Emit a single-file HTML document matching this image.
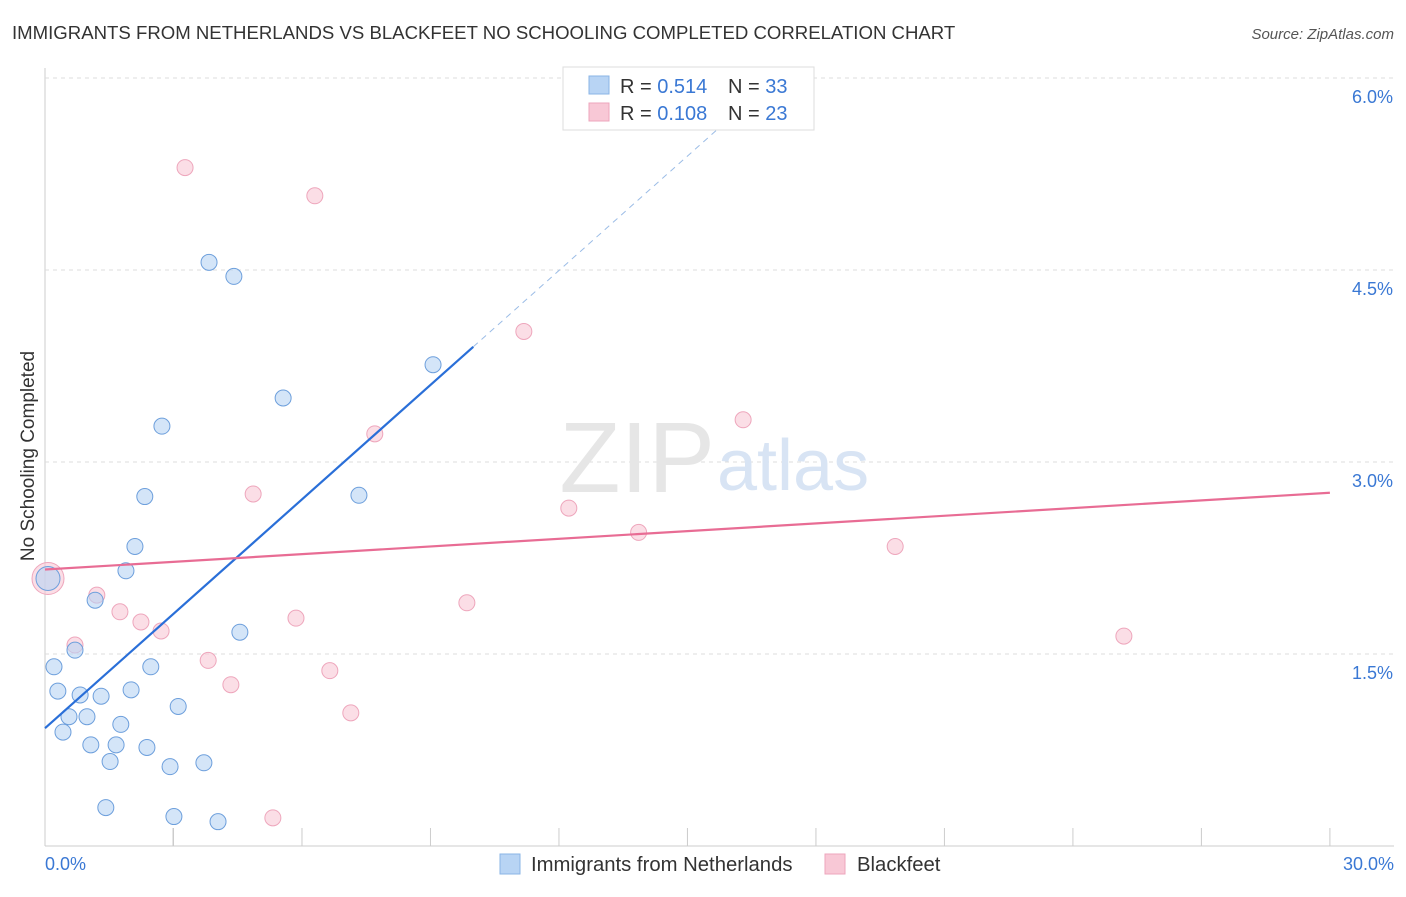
<!DOCTYPE html>
<html><head><meta charset="utf-8"><style>
body{margin:0;background:#fff;font-family:"Liberation Sans",sans-serif;}
svg text{font-family:"Liberation Sans",sans-serif;}
</style></head><body>
<svg id="c" width="1406" height="892" xmlns="http://www.w3.org/2000/svg">
<text x="12" y="39" font-size="18.6" fill="#333">IMMIGRANTS FROM NETHERLANDS VS BLACKFEET NO SCHOOLING COMPLETED CORRELATION CHART</text>
<text x="1394" y="39" font-size="15" fill="#555" text-anchor="end" font-style="italic">Source: ZipAtlas.com</text>
<text x="34" y="456" font-size="19" fill="#333" text-anchor="middle" transform="rotate(-90 34 456)">No Schooling Completed</text>
<g id="grid"></g>
<text x="715" y="492" font-size="100" fill="#e6e6e6" text-anchor="end" font-family="Liberation Serif">ZIP</text>
<text x="717" y="490" font-size="72" fill="#d8e4f4">atlas</text>
<g id="pts"></g>
<g id="lines"></g>
<g>
<rect x="563" y="67" width="251" height="63" fill="#fff" stroke="#ddd"/>
<rect x="589" y="76" width="20" height="18" fill="#b8d4f4" stroke="#8ab4e6"/>
<rect x="589" y="103" width="20" height="18" fill="#f8c8d6" stroke="#eea6bc"/>
<text x="620" y="93" font-size="20" fill="#333">R = <tspan fill="#3a78d4">0.514</tspan></text>
<text x="728" y="93" font-size="20" fill="#333">N = <tspan fill="#3a78d4">33</tspan></text>
<text x="620" y="120" font-size="20" fill="#333">R = <tspan fill="#3a78d4">0.108</tspan></text>
<text x="728" y="120" font-size="20" fill="#333">N = <tspan fill="#3a78d4">23</tspan></text>
</g>
<g>
<rect x="500" y="854" width="20" height="20" fill="#b8d4f4" stroke="#8ab4e6"/>
<text x="531" y="871" font-size="20.3" fill="#333">Immigrants from Netherlands</text>
<rect x="825" y="854" width="20" height="20" fill="#f8c8d6" stroke="#eea6bc"/>
<text x="857" y="871" font-size="20.3" fill="#333">Blackfeet</text>
</g>
</svg>
<script>
const blueX=[0.07,0.21,0.3,0.42,0.56,0.7,0.82,0.98,1.07,1.17,1.31,1.42,1.52,1.66,1.77,1.89,2.01,2.1,2.33,2.38,2.47,2.73,2.92,3.01,3.11,3.71,3.83,4.04,4.41,4.55,5.56,7.33,9.06];
const blueY=[2.09,1.4,1.21,0.89,1.01,1.53,1.18,1.01,0.79,1.92,1.17,0.3,0.66,0.79,0.95,2.15,1.22,2.34,2.73,0.77,1.4,3.28,0.62,0.23,1.09,0.65,4.56,0.19,4.45,1.67,3.5,2.74,3.76];
const pinkX=[0.07,0.7,1.21,1.75,2.24,2.71,3.27,3.81,4.34,4.86,5.32,5.86,6.3,6.65,7.14,7.7,9.85,11.18,12.23,13.86,16.3,19.85,25.19];
const pinkY=[2.09,1.57,1.96,1.83,1.75,1.68,5.3,1.45,1.26,2.75,0.22,1.78,5.08,1.37,1.04,3.22,1.9,4.02,2.64,2.45,3.33,2.34,1.64];
const yTicks=[1.5,3.0,4.5,6.0];
const blueFit=[0.92,0.298];
const pinkFit=[2.16,0.02];
const X=v=>45+v*42.83, Y=v=>846-v*128;
const NS='http://www.w3.org/2000/svg';
function mk(t,a,p){const e=document.createElementNS(NS,t);for(const k in a)e.setAttribute(k,a[k]);p.appendChild(e);return e;}
const g=document.getElementById('grid');
mk('line',{x1:45,y1:68,x2:45,y2:846,stroke:'#ccc'},g);
mk('line',{x1:45,y1:846,x2:1394,y2:846,stroke:'#ccc'},g);
yTicks.forEach(t=>{const l=mk('line',{x1:45,y1:Y(t),x2:1394,y2:Y(t),stroke:'#ddd','stroke-dasharray':'4,4'},g);


const tx=mk('text',{x:1393,y:Y(t)+25,'font-size':18,fill:'#3a78d4','text-anchor':'end'},g);tx.textContent=t.toFixed(1)+'%';

});
for(let i=1;i<=10;i++){mk('line',{x1:X(i*3),y1:828,x2:X(i*3),y2:846,stroke:'#ccc'},g);}
mk('line',{x1:173,y1:828,x2:173,y2:846,stroke:'#ccc'},g);
const x0=mk('text',{x:45,y:870,'font-size':18,fill:'#3a78d4'},g);x0.textContent='0.0%';


const x1=mk('text',{x:1394,y:870,'font-size':18,fill:'#3a78d4','text-anchor':'end'},g);x1.textContent='30.0%';


const p=document.getElementById('pts');
pinkX.forEach((v,i)=>{const c=mk('circle',{cx:X(v),cy:Y(pinkY[i]),r:i===0?16:8,fill:'#f8c8d6','fill-opacity':0.6,stroke:'#eea6bc'},p);

});
blueX.forEach((v,i)=>{const c=mk('circle',{cx:X(v),cy:Y(blueY[i]),r:i===0?12:8,fill:'#b8d4f4','fill-opacity':0.6,stroke:'#6d9fdc'},p);

});
const L=document.getElementById('lines');
const bf=x=>blueFit[0]+blueFit[1]*x, pf=x=>pinkFit[0]+pinkFit[1]*x;
const bl=mk('line',{x1:X(0),y1:Y(bf(0)),x2:X(10),y2:Y(bf(10)),stroke:'#2a6fd8','stroke-width':2.2},L);


const xe=(5.65-blueFit[0])/blueFit[1];
const bd=mk('line',{x1:X(10),y1:Y(bf(10)),x2:X(xe),y2:Y(bf(xe)),stroke:'#9bbce6','stroke-width':1,'stroke-dasharray':'6,5'},L);


const pl=mk('line',{x1:X(0),y1:Y(pf(0)),x2:X(30),y2:Y(pf(30)),stroke:'#e86c94','stroke-width':2.2},L);


</script>
</body></html>
